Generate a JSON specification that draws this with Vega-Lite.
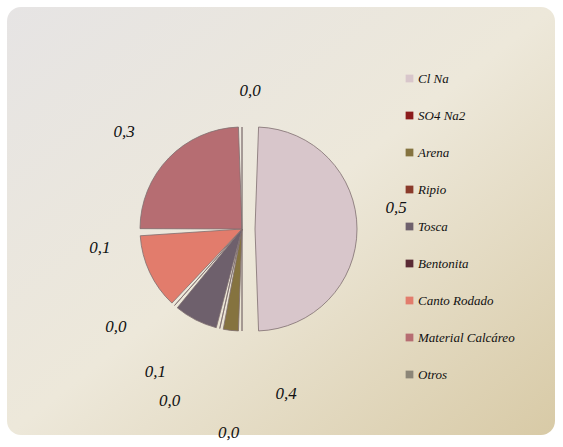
{
  "$schema": "https://vega.github.io/schema/vega-lite/v6.json",
  "width": 548,
  "height": 428,
  "autosize": {"type": "none"},
  "padding": {"left": 7, "top": 7, "right": 8, "bottom": 12},
  "background": "white",
  "view": {
    "fill": {"gradient": "linear", "x1": 0, "y1": 0, "x2": 1, "y2": 1,
      "stops": [{"offset": 0, "color": "#e6e4e4"}, {"offset": 0.5, "color": "#ede8da"}, {"offset": 1, "color": "#d8caa6"}]},
    "cornerRadius": 14,
    "stroke": null
  },
  "data": {
    "values": [
      {"category": "Cl Na", "value": 0.5, "label": "0,5", "order": 1},
      {"category": "SO4 Na2", "value": 0, "label": "0,4", "order": 2},
      {"category": "Arena", "value": 0.035, "label": "0,0", "order": 3},
      {"category": "Ripio", "value": 0, "label": "0,0", "order": 4},
      {"category": "Tosca", "value": 0.08, "label": "0,1", "order": 5},
      {"category": "Bentonita", "value": 0, "label": "0,0", "order": 6},
      {"category": "Canto Rodado", "value": 0.13, "label": "0,1", "order": 7},
      {"category": "Material Calcáreo", "value": 0.255, "label": "0,3", "order": 8},
      {"category": "Otros", "value": 0, "label": "0,0", "order": 9}
    ]
  },
  "transform": [
    {"stack": "value", "groupby": [], "sort": [{"field": "order"}], "as": ["v0", "v1"]},
    {"calculate": "(datum.v0 + datum.v1) / 2", "as": "mid"}
  ],
  "encoding": {
    "theta": {"field": "mid", "type": "quantitative", "scale": {"domain": [0, 1]}}
  },
  "layer": [
    {
      "transform": [{"filter": "datum.category != 'Cl Na'"}],
      "mark": {"type": "arc", "radius": 102, "padAngle": 0.07, "xOffset": -39, "yOffset": 8, "stroke": "#7f6f70", "strokeWidth": 0.8},
      "encoding": {
        "theta": {"field": "v0", "type": "quantitative", "scale": {"domain": [0, 1]}},
        "theta2": {"field": "v1"},
        "color": {
          "field": "category", "type": "nominal",
          "scale": {
            "domain": ["Cl Na", "SO4 Na2", "Arena", "Ripio", "Tosca", "Bentonita", "Canto Rodado", "Material Calcáreo", "Otros"],
            "range": ["#d8c6cb", "#8c1c1c", "#85733f", "#8a3a2a", "#6e606c", "#5a2a34", "#e27c6c", "#b66d72", "#8c8678"]
          },
          "legend": {
            "title": null, "orient": "none", "legendX": 396, "legendY": 65,
            "symbolType": "square", "symbolSize": 60, "symbolStrokeWidth": 0,
            "labelFont": "Liberation Serif", "labelFontStyle": "italic", "labelFontSize": 13, "labelColor": "#111111",
            "labelOffset": 2, "rowPadding": 23
          }
        }
      }
    },
    {
      "transform": [{"filter": "datum.category == 'Cl Na'"}],
      "mark": {"type": "arc", "radius": 102, "padAngle": 0.07, "xOffset": -26, "yOffset": 8, "stroke": "#7f6f70", "strokeWidth": 0.8},
      "encoding": {
        "theta": {"field": "v0", "type": "quantitative", "scale": {"domain": [0, 1]}},
        "theta2": {"field": "v1"},
        "color": {"field": "category", "type": "nominal"}
      }
    },
    {
      "transform": [{"filter": "datum.category == 'Cl Na'"}],
      "mark": {"type": "text", "radius": 146, "dx": 8, "dy": -21, "font": "Liberation Serif", "fontStyle": "italic", "fontSize": 17, "color": "#111111", "xOffset": -39, "yOffset": 8},
      "encoding": {"text": {"field": "label"}}
    },
    {
      "transform": [{"filter": "datum.category == 'Material Calcáreo'"}],
      "mark": {"type": "text", "radius": 146, "dx": -13, "dy": 5, "font": "Liberation Serif", "fontStyle": "italic", "fontSize": 17, "color": "#111111", "xOffset": -39, "yOffset": 8},
      "encoding": {"text": {"field": "label"}}
    },
    {
      "transform": [{"filter": "datum.category == 'Canto Rodado'"}],
      "mark": {"type": "text", "radius": 146, "dx": -10, "dy": -43, "font": "Liberation Serif", "fontStyle": "italic", "fontSize": 17, "color": "#111111", "xOffset": -39, "yOffset": 8},
      "encoding": {"text": {"field": "label"}}
    },
    {
      "transform": [{"filter": "datum.category == 'Otros'"}],
      "mark": {"type": "text", "radius": 146, "dx": 8, "dy": 8, "font": "Liberation Serif", "fontStyle": "italic", "fontSize": 17, "color": "#111111", "xOffset": -39, "yOffset": 8},
      "encoding": {"text": {"field": "label"}}
    },
    {
      "transform": [{"filter": "datum.category == 'SO4 Na2'"}],
      "mark": {"type": "text", "radius": 163, "dx": 44, "dy": 2, "font": "Liberation Serif", "fontStyle": "italic", "fontSize": 17, "color": "#111111", "xOffset": -39, "yOffset": 8},
      "encoding": {"text": {"field": "label"}}
    },
    {
      "transform": [{"filter": "datum.category == 'Arena'"}],
      "mark": {"type": "text", "radius": 203, "dx": 9, "dy": 2, "font": "Liberation Serif", "fontStyle": "italic", "fontSize": 17, "color": "#111111", "xOffset": -39, "yOffset": 8},
      "encoding": {"text": {"field": "label"}}
    },
    {
      "transform": [{"filter": "datum.category == 'Ripio'"}],
      "mark": {"type": "text", "radius": 176, "dx": -34, "font": "Liberation Serif", "fontStyle": "italic", "fontSize": 17, "color": "#111111", "xOffset": -39, "yOffset": 8},
      "encoding": {"text": {"field": "label"}}
    },
    {
      "transform": [{"filter": "datum.category == 'Tosca'"}],
      "mark": {"type": "text", "radius": 160, "dx": -14, "font": "Liberation Serif", "fontStyle": "italic", "fontSize": 17, "color": "#111111", "xOffset": -39, "yOffset": 8},
      "encoding": {"text": {"field": "label"}}
    },
    {
      "transform": [{"filter": "datum.category == 'Bentonita'"}],
      "mark": {"type": "text", "radius": 150, "dx": -27, "dy": -15, "font": "Liberation Serif", "fontStyle": "italic", "fontSize": 17, "color": "#111111", "xOffset": -39, "yOffset": 8},
      "encoding": {"text": {"field": "label"}}
    }
  ]
}
